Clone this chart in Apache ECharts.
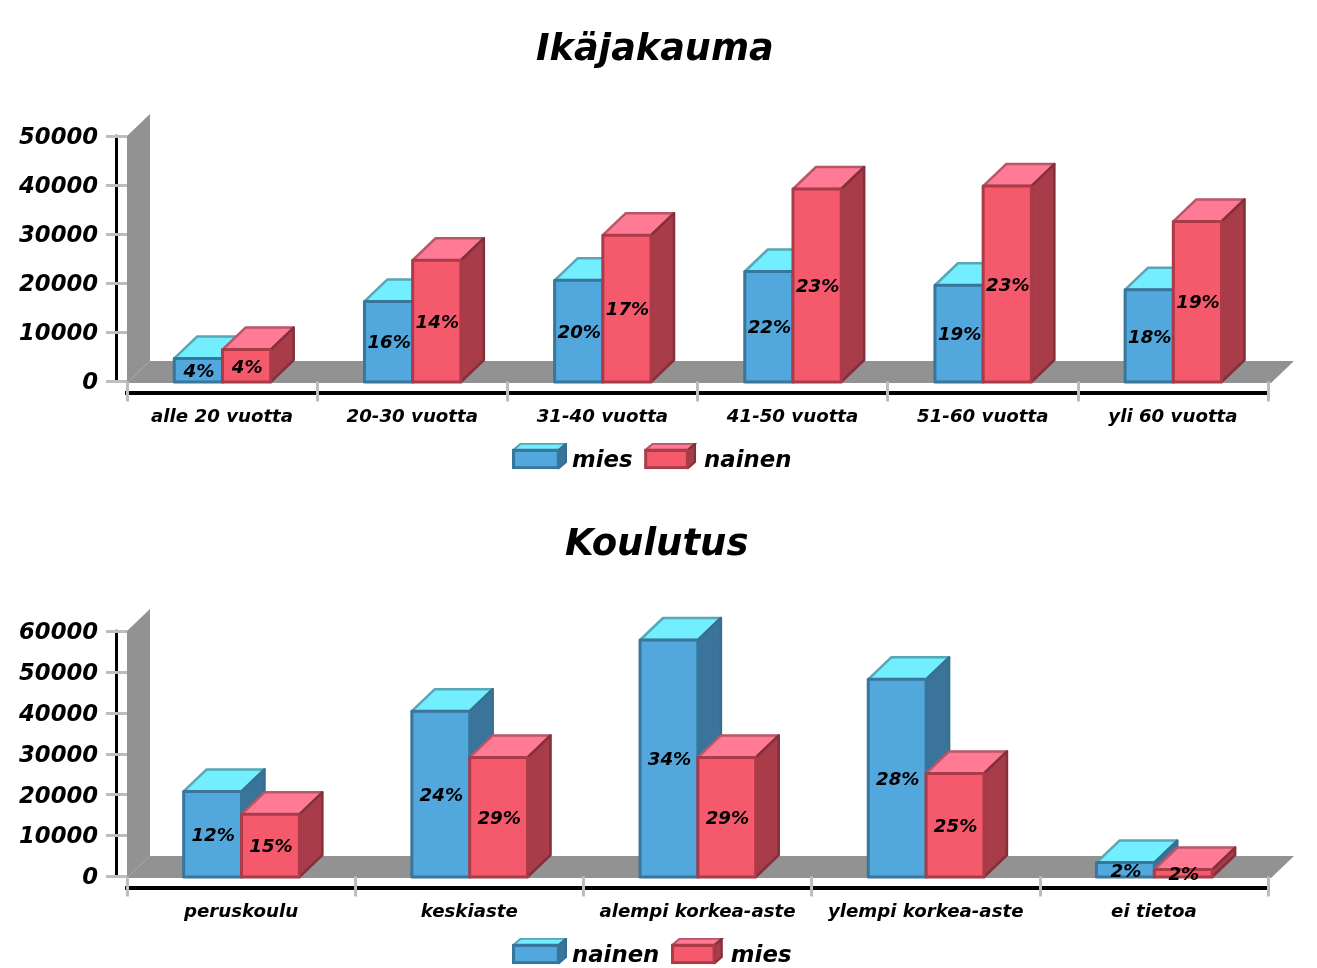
<!DOCTYPE html>
<html>
<head>
<meta charset="utf-8">
<style>html,body{margin:0;padding:0;background:#fff}#c{width:1317px;height:968px}</style>
<script src="https://cdn.jsdelivr.net/npm/echarts@6/dist/echarts.min.js"></script>
</head>
<body>
<div id="c"></div>
<script>
const ageCategories = ['alle 20 vuotta','20-30 vuotta','31-40 vuotta','41-50 vuotta','51-60 vuotta','yli 60 vuotta'];
const ageMies = [4700,16300,20600,22400,19600,18700];
const ageNainen = [6500,24700,29800,39200,39800,32600];
const ageMiesPct = ['4%','16%','20%','22%','19%','18%'];
const ageNainenPct = ['4%','14%','17%','23%','23%','19%'];
const eduCategories = ['peruskoulu','keskiaste','alempi korkea-aste','ylempi korkea-aste','ei tietoa'];
const eduNainen = [20800,40400,57800,48200,3400];
const eduMies = [15200,29100,29100,25200,1700];
const eduNainenPct = ['12%','24%','34%','28%','2%'];
const eduMiesPct = ['15%','29%','29%','25%','2%'];

const FONT = {fontFamily:'"DejaVu Sans"',fontWeight:'bold',fontStyle:'italic',color:'#000'};
const BLUE = {front:'#52a7dc',frontB:'#38769c',top:'#72eeff',topB:'#57a7b6',side:'#3a749a',sideB:'#35708f'};
const RED = {front:'#f55a6c',frontB:'#aa3b49',top:'#ff7b95',topB:'#b95668',side:'#a83c49',sideB:'#82303b'};
const DX = 23, DY = -22, BAR_RATIO = 0.2535;

function poly(points, fill, stroke, lw){
  return {type:'polygon',shape:{points},style:{fill,stroke,lineWidth:lw,lineJoin:'round'}};
}
function boxSeries(name, values, pct, pal, side, xi, yi){
  return {
    type:'custom',name,xAxisIndex:xi,yAxisIndex:yi,clip:false,z:3,silent:true,
    itemStyle:{color:pal.front},
    encode:{x:0,y:1},
    data:values.map((v,i)=>[i,v]),
    renderItem(params,api){
      const b = api.coord([api.value(0),0]);
      const t = api.coord([api.value(0),api.value(1)]);
      const w = api.size([1,0])[0]*BAR_RATIO;
      const x0 = (side<0 ? b[0]-w : b[0])+0.4, x1 = x0+w;
      const y0 = b[1]+0.5, y1 = t[1];
      return {type:'group',children:[
        poly([[x0,y1],[x0+DX,y1+DY],[x1+DX,y1+DY],[x1,y1]],pal.top,pal.topB,2.5),
        poly([[x1,y1],[x1+DX,y1+DY],[x1+DX,y0+DY],[x1,y0]],pal.side,pal.sideB,2.5),
        poly([[x0,y1],[x1,y1],[x1,y0],[x0,y0]],pal.front,pal.frontB,3),
        {type:'text',z2:50,style:{text:pct[params.dataIndex],x:(x0+x1)/2+0.6,y:(y0+y1)/2+2,
          align:'center',verticalAlign:'middle',font:'italic bold 18.2px "DejaVu Sans"',fill:'#000'}}
      ]};
    }
  };
}
function stageSeries(xi,yi){
  return {
    type:'custom',xAxisIndex:xi,yAxisIndex:yi,clip:false,z:1,silent:true,
    data:[[0,0]],encode:{x:0,y:1},
    renderItem(params){
      const c = params.coordSys, l=c.x, r=c.x+c.width+3, t=c.y, b=c.y+c.height+1.5;
      const g='#929292';
      return {type:'group',children:[
        poly([[l,b],[l+DX,b+DY],[r+DX,b+DY],[r,b]],g,g,0),
        poly([[l,t],[l+DX,t+DY],[l+DX,b+DY],[l,b]],g,g,0),
        {type:'line',shape:{x1:l,y1:b,x2:l+DX,y2:b+DY},style:{stroke:'#a2a2a2',lineWidth:1}}
      ]};
    }
  };
}
function boxIcon(pal,W){
  const H=26,d=7;
  const svg=`<svg xmlns="http://www.w3.org/2000/svg" width="54" height="26" viewBox="0 0 54 26">`+
   `<polygon points="1.5,7 ${d+1.5},1 ${W-1},1 ${W-d-1},7" fill="${pal.top}" stroke="${pal.topB}" stroke-width="2"/>`+
   `<polygon points="${W-d-1},7 ${W-1},1 ${W-1},19 ${W-d-1},${H-1}" fill="${pal.side}" stroke="${pal.sideB}" stroke-width="2"/>`+
   `<rect x="1.5" y="7.5" width="${W-d-3}" height="${H-9}" fill="${pal.front}" stroke="${pal.frontB}" stroke-width="3"/></svg>`;
  return 'image://data:image/svg+xml;charset=utf-8,'+encodeURIComponent(svg);
}
function yAxes(grid,max){
  return [
    {type:'value',gridIndex:grid,min:0,max,interval:10000,z:5,
      axisLine:{show:false},splitLine:{show:false},
      axisTick:{show:true,length:21,lineStyle:{color:'#bdbdbd',width:3}},
      axisLabel:{...FONT,margin:29,formatter:v=>`{t|${v}}`,
        rich:{t:{...FONT,fontSize:22.7,padding:[4,0,0,0]}}}},
    {type:'value',gridIndex:grid,min:0,max,interval:10000,position:'left',offset:10.5,z:4,
      axisLine:{show:true,onZero:false,lineStyle:{color:'#000',width:3}},
      axisTick:{show:false},axisLabel:{show:false},splitLine:{show:false}}
  ];
}
function xAxes(grid,data){
  return [
    {type:'category',gridIndex:grid,data,z:5,boundaryGap:true,
      axisLine:{show:false},
      axisTick:{show:true,length:20,lineStyle:{color:'#bdbdbd',width:3}},
      axisLabel:{...FONT,fontSize:18.2,margin:27,interval:0}},
    {type:'category',gridIndex:grid,data,position:'bottom',offset:11,z:4,
      axisLine:{show:true,onZero:false,lineStyle:{color:'#000',width:4,cap:'square'}},
      axisTick:{show:false},axisLabel:{show:false}}
  ];
}
const legendStyle = {orient:'horizontal',itemWidth:55,itemHeight:27,selectedMode:false,
  formatter:'{t|{name}}',
  textStyle:{...FONT,fontSize:23,rich:{t:{...FONT,fontSize:22.8,padding:[10,0,0,0]}}},padding:0};

const option = {
  animation:false,
  backgroundColor:'#fff',
  title:[
    {text:'Ikäjakauma',left:531,top:27,textStyle:{...FONT,fontSize:36.6}},
    {text:'Koulutus',left:560,top:522,textStyle:{...FONT,fontSize:37}}
  ],
  grid:[
    {left:127,top:136,width:1141,height:245.5},
    {left:127,top:631,width:1141,height:245.5}
  ],
  xAxis:[...xAxes(0,ageCategories),...xAxes(1,eduCategories)],
  yAxis:[...yAxes(0,50000),...yAxes(1,60000)],
  legend:[
    {...legendStyle,left:512,top:442.5,itemGap:11.5,
      data:[{name:'mies',icon:boxIcon(BLUE,54)},{name:'nainen',icon:boxIcon(RED,51)}]},
    {...legendStyle,left:512,top:937.5,itemGap:11.5,
      data:[{name:'nainen',icon:boxIcon(BLUE,54)},{name:'mies',icon:boxIcon(RED,51)}]}
  ],
  series:[
    stageSeries(0,0),
    boxSeries('mies',ageMies,ageMiesPct,BLUE,-1,0,0),
    boxSeries('nainen',ageNainen,ageNainenPct,RED,1,0,0),
    stageSeries(2,2),
    boxSeries('nainen',eduNainen,eduNainenPct,BLUE,-1,2,2),
    boxSeries('mies',eduMies,eduMiesPct,RED,1,2,2)
  ]
};
echarts.init(document.getElementById('c'),null,{renderer:'canvas'}).setOption(option);
</script>
</body>
</html>
